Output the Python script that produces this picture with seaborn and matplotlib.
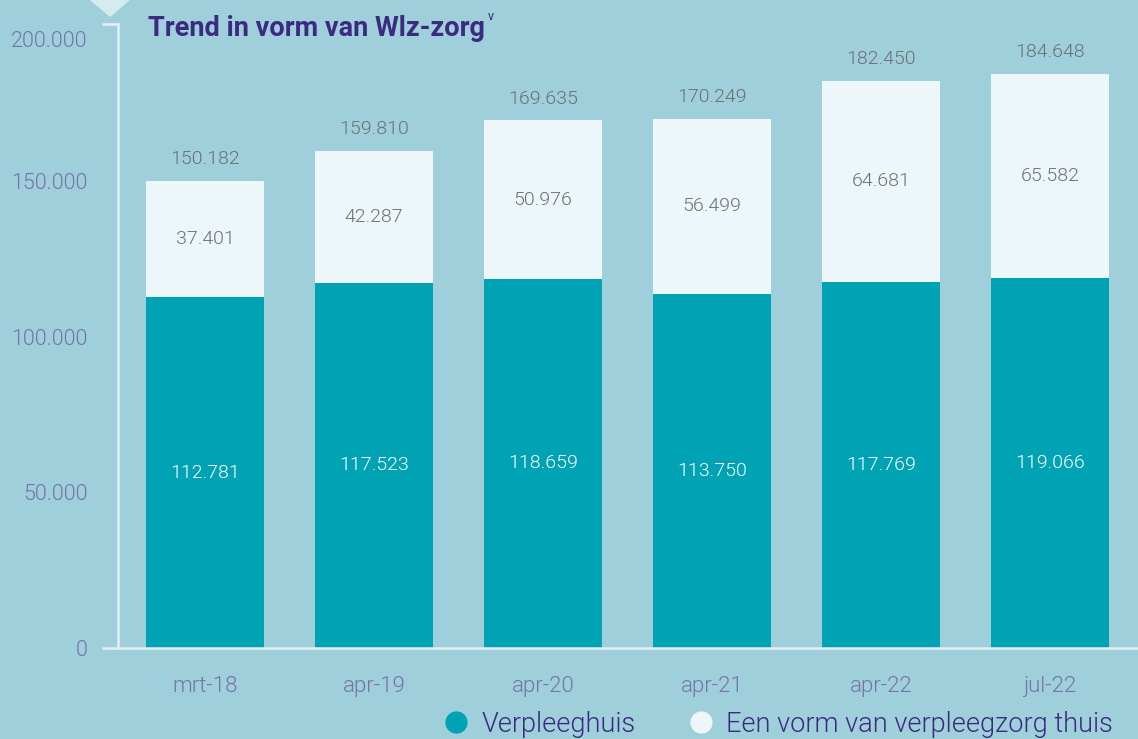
import matplotlib
matplotlib.use("Agg")
import matplotlib.pyplot as plt
import matplotlib.transforms as mtransforms
import seaborn as sns
import pandas as pd
from matplotlib.patches import Polygon
from matplotlib.lines import Line2D

categories = ["mrt-18", "apr-19", "apr-20", "apr-21", "apr-22", "jul-22"]
verpleeghuis = [112781, 117523, 118659, 113750, 117769, 119066]
thuis = [37401, 42287, 50976, 56499, 64681, 65582]
totals = [150182, 159810, 169635, 170249, 182450, 184648]
yticks = [0, 50000, 100000, 150000, 200000]

BG = "#9ecfda"
TEAL = "#00a3b4"
LIGHT = "#edf6f9"
PURPLE = "#3b2a80"
TICKC = "#7673a8"
GRAYTXT = "#6b7075"
AXC = "#e6f0f2"

def fmt(v):
    return f"{v:,}".replace(",", ".")

sns.set_theme(style="white")
plt.rcParams["font.family"] = ["Roboto", "DejaVu Sans"]

df = pd.DataFrame({"cat": categories, "vh": verpleeghuis, "th": thuis, "tot": totals})

fig = plt.figure(figsize=(11.38, 7.39), dpi=100, facecolor=BG)
ax = fig.add_axes([118 / 1138, 91 / 739, 1 - 118 / 1138, (648 - 24) / 739])
ax.set_facecolor(BG)

sns.barplot(data=df, x="cat", y="tot", color=LIGHT, saturation=1, width=0.70, ax=ax, linewidth=0)
sns.barplot(data=df, x="cat", y="vh", color=TEAL, saturation=1, width=0.70, ax=ax, linewidth=0)

ax.set_xlim(-0.515, 5.52)
ax.set_ylim(0, 200643)
ax.set_xlabel("")
ax.set_ylabel("")
ax.set_yticks(yticks)
ax.set_yticklabels([fmt(v) for v in yticks], color=TICKC, fontsize=15.5, fontweight=300)
ax.tick_params(axis="y", length=0, pad=22)
ax.tick_params(axis="x", length=0, pad=20, labelsize=16, labelcolor=TICKC)
for t in ax.get_xticklabels():
    t.set_fontweight(300)
top_lab = ax.get_yticklabels()[-1]
top_lab.set_transform(top_lab.get_transform() +
                      mtransforms.ScaledTranslation(0, -13 / 100, fig.dpi_scale_trans))

for s in ["top", "right"]:
    ax.spines[s].set_visible(False)
ax.spines["left"].set_color(AXC)
ax.spines["left"].set_linewidth(1.8)
ax.spines["bottom"].set_visible(False)
ax.add_line(Line2D([-0.0147, 1], [0, 0], transform=ax.transAxes, color=AXC, lw=1.8, clip_on=False))
ax.add_line(Line2D([-0.0147, 0], [1, 1], transform=ax.transAxes, color=AXC, lw=1.8, clip_on=False))

for i in range(len(categories)):
    ax.text(i, verpleeghuis[i] / 2, fmt(verpleeghuis[i]), ha="center", va="center",
            color="white", fontsize=14, fontweight=300)
    ax.text(i, verpleeghuis[i] + thuis[i] / 2, fmt(thuis[i]), ha="center", va="center",
            color=GRAYTXT, fontsize=14, fontweight=300)
    ax.text(i, totals[i] + 7000, fmt(totals[i]), ha="center", va="center",
            color=GRAYTXT, fontsize=14, fontweight=300)

# title
fig.text(148 / 1138, 1 - 28 / 739, "Trend in vorm van Wlz-zorg", ha="left", va="center",
         color=PURPLE, fontsize=19.5, fontweight="bold")
fig.text(488 / 1138, 1 - 17 / 739, "v", ha="left", va="center", color=PURPLE, fontsize=9)

# triangle decoration
fig.patches.append(Polygon([[90 / 1138, 1], [130 / 1138, 1], [110 / 1138, 1 - 17 / 739]],
                           closed=True, transform=fig.transFigure, facecolor="#d4ebef",
                           edgecolor="none"))

# legend
handles = [Line2D([], [], marker="o", linestyle="", markersize=15, markerfacecolor=TEAL,
                  markeredgecolor=TEAL),
           Line2D([], [], marker="o", linestyle="", markersize=15, markerfacecolor=LIGHT,
                  markeredgecolor=LIGHT)]
leg = fig.legend(handles, ["Verpleeghuis", "Een vorm van verpleegzorg thuis"], loc="center right",
                 bbox_to_anchor=(1113 / 1138, 1 - 724 / 739), ncol=2, frameon=False, fontsize=19.5,
                 handletextpad=0.45, columnspacing=1.9, handlelength=1.0, borderaxespad=0.0,
                 borderpad=0.0)
for t in leg.get_texts():
    t.set_color(PURPLE)
    t.set_fontweight(300)

fig.savefig("out.png", dpi=100, facecolor=BG)
